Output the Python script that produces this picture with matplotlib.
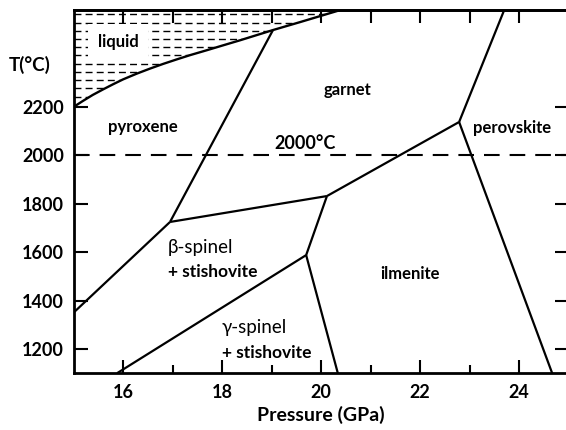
import numpy as np
import matplotlib
matplotlib.use("Agg")
import matplotlib.pyplot as plt
from matplotlib.patches import Polygon

plt.rcParams['font.family'] = ['Lato', 'DejaVu Sans']

# liquidus curve (P in GPa, T in C)
liq_P = [15.0, 15.19, 15.39, 15.60, 15.80, 16.00, 16.28, 16.55, 16.81, 17.09, 17.35, 17.70,
         17.96, 18.37, 19.03, 19.58, 20.38]
liq_T = [2200, 2225, 2250, 2273, 2294, 2314, 2338, 2359, 2378, 2397, 2414, 2435,
         2451, 2476, 2518, 2551, 2600]

# phase boundaries, each a list of (P, T)
boundaries = {
    "pyx_grt": [(19.03, 2518), (16.95, 1725)],
    "pyx_beta": [(16.95, 1725), (15.0, 1350)],
    "beta_grt": [(16.95, 1725), (20.12, 1832)],
    "grt_ilm": [(20.12, 1832), (22.79, 2138)],
    "beta_ilm": [(20.12, 1832), (19.70, 1588)],
    "beta_gamma": [(19.70, 1588), (15.88, 1100)],
    "gamma_ilm": [(19.70, 1588), (20.34, 1100)],
    "ilm_pv": [(22.79, 2138), (24.67, 1100)],
    "grt_pv": [(22.79, 2138), (23.70, 2600)],
}

labels_bold = [
    ("liquid", 15.9, 2469),
    ("pyroxene", 16.40, 2117),
    ("garnet", 20.53, 2270),
    ("perovskite", 23.86, 2113),
    ("ilmenite", 21.80, 1510),
]

fig = plt.figure(figsize=(5.66, 4.30), dpi=100)
ax = fig.add_axes([73.5 / 566, 1 - 373.2 / 430, (568.5 - 73.5) / 566, (373.2 - 10.2) / 430])
ax.set_xlim(15, 25)
ax.set_ylim(1100, 2600)

# liquid region with dashed hatching
poly_pts = list(zip(liq_P, liq_T)) + [(15.0, 2600)]
liq_patch = Polygon(poly_pts, closed=True, facecolor='none', edgecolor='none')
ax.add_patch(liq_patch)
for t in np.arange(2583, 2195, -34):
    ln, = ax.plot([15, 21], [t, t], color='black', lw=1.0, dashes=(5, 3))
    ln.set_clip_path(liq_patch)

ax.plot(liq_P, liq_T, color='black', lw=1.7, solid_capstyle='butt', solid_joinstyle='round')
for name, pts in boundaries.items():
    p = [a for a, b in pts]
    t = [b for a, b in pts]
    ax.plot(p, t, color='black', lw=1.6, solid_capstyle='butt')

ax.plot([15, 25], [2000, 2000], color='black', lw=1.5, dashes=(7.5, 4.8))

for txt, x, y in labels_bold:
    kw = {}
    if txt == "liquid":
        kw['bbox'] = dict(facecolor='white', edgecolor='none', boxstyle='square,pad=0.6')
    ax.text(x, y, txt, fontsize=12, fontweight='bold', ha='center', va='center', **kw)

ax.text(19.68, 2051, "2000°C", fontsize=13, fontweight='bold', ha='center', va='center')
ax.text(16.91, 1621, "β-spinel", fontsize=13.5, ha='left', va='center')
ax.text(16.91, 1518, "+ stishovite", fontsize=12.5, fontweight='bold', ha='left', va='center')
ax.text(18.0, 1287, "γ-spinel", fontsize=13.5, ha='left', va='center')
ax.text(18.0, 1183, "+ stishovite", fontsize=12.5, fontweight='bold', ha='left', va='center')

# ticks
ax.set_xticks([16, 18, 20, 22, 24])
ax.set_xticks([17, 19, 21, 23], minor=True)
ax.set_yticks([1200, 1400, 1600, 1800, 2000, 2200])
ax.tick_params(axis='x', which='major', direction='in', length=9.5, width=1.5, pad=8, labelsize=13)
ax.tick_params(axis='x', which='minor', direction='in', length=6, width=1.5)
ax.tick_params(axis='y', direction='in', length=10, width=1.5, pad=7, labelsize=13, right=True)
for lab in ax.get_xticklabels() + ax.get_yticklabels():
    lab.set_fontweight('bold')

top = ax.secondary_xaxis('top')
top.set_xticks(range(16, 25))
top.tick_params(direction='in', length=9, width=1.5, labeltop=False)
top.spines['top'].set_linewidth(2)

for s in ['left', 'bottom', 'top']:
    ax.spines[s].set_linewidth(2)
ax.spines['right'].set_visible(False)

ax.set_xlabel("Pressure (GPa)", fontsize=14, fontweight='bold', labelpad=3)
fig.text(30 / 566, 1 - 65 / 430, "T(°C)", fontsize=13.5, fontweight='bold', ha='center', va='center')

fig.savefig("out.png", dpi=100)
